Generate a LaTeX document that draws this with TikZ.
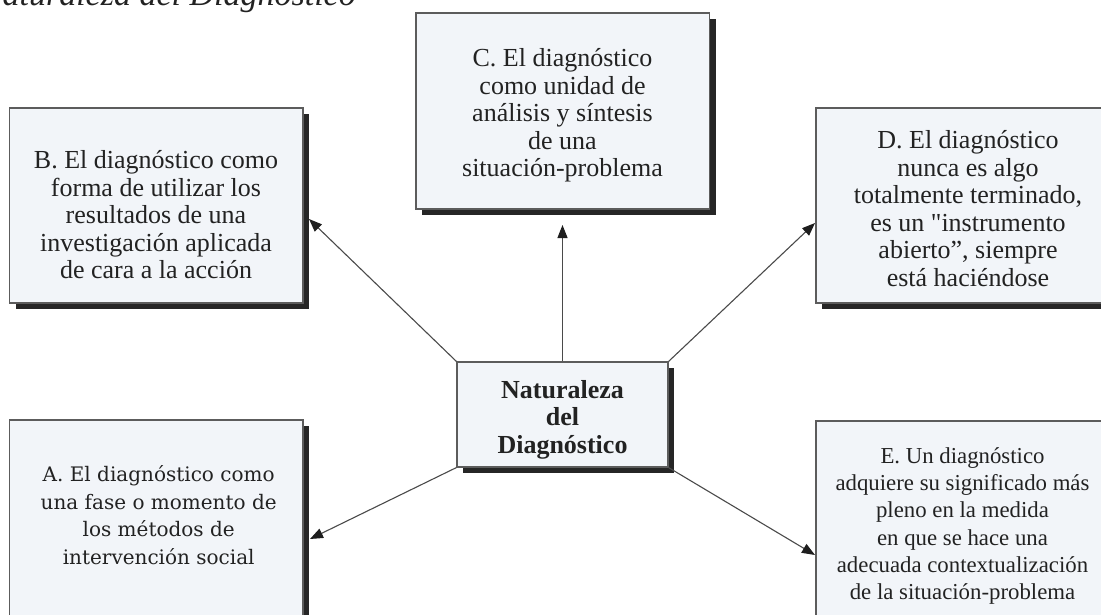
\documentclass[tikz,border=0pt]{standalone}
\usepackage{fontspec}
\setmainfont{Liberation Serif}[Ligatures=TeXOff]
\newfontfamily\afont{DejaVu Serif}
\usetikzlibrary{arrows.meta,shadows}

\definecolor{boxfill}{HTML}{F2F5F9}
\definecolor{boxline}{HTML}{5C5C5C}
\definecolor{shadowc}{HTML}{262626}
\definecolor{linec}{HTML}{4A4A4A}
\definecolor{headc}{HTML}{1E1E1E}
\definecolor{txt}{HTML}{222222}

\tikzset{
  card/.style={rectangle, draw=boxline, line width=1.1pt, fill=boxfill,
    inner sep=0pt,
    drop shadow={shadow xshift=6pt, shadow yshift=-6pt, fill=shadowc, opacity=1}},
  cardtext/.style={align=center, inner sep=0pt, text=txt,
    font=\fontsize{26}{27.5}\selectfont},
  conn/.style={draw=linec, line width=1.1pt,
    -{Triangle[length=13pt,width=10pt,color=headc]}}
}

\begin{document}
\begin{tikzpicture}[x=1pt, y=-1pt]
  \useasboundingbox (0,0) rectangle (1101,614);
  \clip (0,0) rectangle (1101,614);
  \fill[white] (0,0) rectangle (1101,614);

  % title of the figure
  \node[anchor=base east, inner sep=0pt, text=txt,
        font=\itshape\fontsize{34}{34}\selectfont] (title) at (356,5)
        {Naturaleza del Diagnóstico};

  % boxes
  \node[card, minimum width=293.5pt, minimum height=195pt] (B) at (156.25,205.5) {};
  \node[card, minimum width=293.5pt, minimum height=196pt] (C) at (562.75,111) {};
  \node[card, minimum width=294pt, minimum height=195pt] (D) at (963,205.5) {};
  \node[card, minimum width=211pt, minimum height=105pt] (Nat) at (562.5,414.5) {};
  \node[card, minimum width=293.5pt, minimum height=196pt] (A) at (156.25,518) {};
  \node[card, minimum width=294pt, minimum height=196pt] (E) at (963,519) {};

  % box texts
  \node[cardtext] (Bt) at (156,215)
    {B. El diagnóstico como\\forma de utilizar los\\resultados de una\\investigación aplicada\\de cara a la acción};
  \node[cardtext] (Ct) at (562.5,115.5)
    {C. El diagnóstico\\como unidad de\\análisis y síntesis\\de una\\situación-problema};
  \node[cardtext] (Dt) at (968,208.5)
    {D. El diagnóstico\\nunca es algo\\totalmente terminado,\\es un "instrumento\\abierto”, siempre\\está haciéndose};
  \node[cardtext, font=\bfseries\fontsize{26}{27.5}\selectfont] (Natt) at (562.5,419.5)
    {Naturaleza\\del\\Diagnóstico};
  \node[cardtext, font=\afont\fontsize{20}{27.5}\selectfont] (At) at (158.7,515)
    {A. El diagnóstico como\\una fase o momento de\\los métodos de\\intervención social};
  \node[cardtext, font=\fontsize{22.8}{27.1}\selectfont] (Et) at (962.5,526)
    {E. Un diagnóstico\\adquiere su significado más\\pleno en la medida\\en que se hace una\\adecuada contextualización\\de la situación-problema};

  % arrow ends
  \coordinate (Btip) at (309,219);
  \coordinate (Ctip) at (562.5,225);
  \coordinate (Dtip) at (815,223);
  \coordinate (Atip) at (310,539);
  \coordinate (Etip) at (815,555);

  % connectors
  \draw[conn] (Nat.north west) -- (Btip);
  \draw[conn] (Nat.north) -- (Ctip);
  \draw[conn] (Nat.north east) -- (Dtip);
  \draw[conn] (Nat.south west) -- (Atip);
  \draw[conn] (Nat.south east) -- (Etip);
\end{tikzpicture}
\end{document}
